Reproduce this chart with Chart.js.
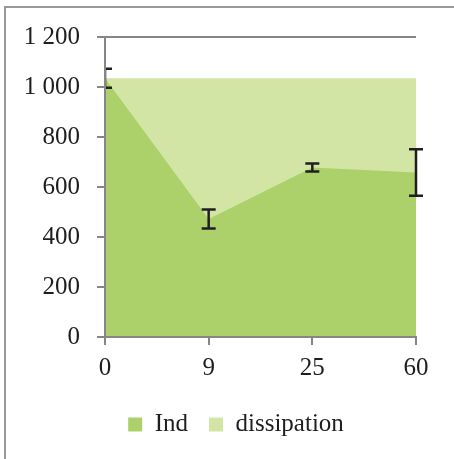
<!DOCTYPE html>
<html>
<head>
<meta charset="utf-8">
<script src="https://cdn.jsdelivr.net/npm/chart.js@4"></script>
<style>
  body { margin: 0; background: #fff; }
  #wrap { position: relative; width: 454px; height: 459px; }
  #frame { position: absolute; left: 4px; top: 6px; right: -4px; bottom: -4px;
           border-left: 2px solid #999; border-top: 2px solid #999; pointer-events: none; }
  canvas { position: absolute; left: 0; top: 0; }
</style>
</head>
<body>
<div id="wrap">
  <canvas id="chart" width="454" height="459"></canvas>
  <div id="frame"></div>
</div>
<script>
// data
var categories = ['0', '9', '25', '60'];
var indValues = [1035, 472, 678, 658];
var dissipationValues = [0, 563, 357, 377];
var indErrors = [38, 38, 16, 93];

var axisGray = '#868686';
var textColor = '#1e1e1e';
var serif = "'Liberation Serif', 'Times New Roman', serif";

// error bars on the Ind series
var errorBarPlugin = {
    id: 'errorBars',
    afterLayout: function (chart) {
        // legend sits a bit right of the centre in the original
        chart.legend.left += 28;
        chart.legend.right += 28;
    },
    afterDatasetsDraw: function (chart) {
        var ctx = chart.ctx;
        var area = chart.chartArea;
        var xs = chart.scales.x;
        var ys = chart.scales.y;
        ctx.save();
        ctx.beginPath();
        ctx.rect(area.left, 0, chart.width - area.left, chart.height);
        ctx.clip();
        ctx.strokeStyle = '#1f1f1f';
        ctx.lineWidth = 2.5;
        for (var i = 0; i < indValues.length; i++) {
            var x = xs.getPixelForValue(i);
            var yTop = ys.getPixelForValue(indValues[i] + indErrors[i]);
            var yBot = ys.getPixelForValue(indValues[i] - indErrors[i]);
            ctx.beginPath();
            ctx.moveTo(x, yTop); ctx.lineTo(x, yBot);
            ctx.moveTo(x - 7, yTop); ctx.lineTo(x + 7, yTop);
            ctx.moveTo(x - 7, yBot); ctx.lineTo(x + 7, yBot);
            ctx.stroke();
        }
        ctx.restore();
    }
};

var data = {
    labels: categories,
    datasets: [{
        label: 'Ind',
        data: indValues,
        backgroundColor: '#acd16a',
        borderWidth: 0,
        pointRadius: 0,
        fill: 'origin'
    }, {
        label: 'dissipation',
        data: dissipationValues,
        backgroundColor: '#d3e5a5',
        borderWidth: 0,
        pointRadius: 0,
        fill: 'origin'   // drawn underneath Ind, so no seam
    }]
};

var options = {
    responsive: false,
    animation: false,
    layout: { padding: { left: 0, top: 37, right: 38, bottom: 12 } },
    elements: { line: { tension: 0 } },
    plugins: {
        tooltip: { enabled: false },
        legend: {
            position: 'bottom',
            labels: {
                color: textColor,
                font: { family: serif, size: 25 },
                boxWidth: 14,
                boxHeight: 14,
                padding: 21
            }
        }
    },
    scales: {
        x: {
            offset: false,
            grid: { drawOnChartArea: false, tickLength: 8, color: axisGray, lineWidth: 2 },
            border: { color: axisGray, width: 2, z: 1 },
            ticks: { color: textColor, font: { family: serif, size: 25 }, padding: 8, maxRotation: 0 },
            afterFit: function (scale) { scale.height = 54; }
        },
        y: {
            stacked: true,
            min: 0,
            max: 1200,
            grid: { color: axisGray, lineWidth: 2, tickLength: 8 },
            border: { color: axisGray, width: 2, z: 1 },
            ticks: {
                stepSize: 200,
                color: textColor,
                font: { family: serif, size: 25 },
                padding: 17,
                callback: function (v) {
                    return String(v).replace(/\B(?=(\d{3})+(?!\d))/g, ' ');
                }
            },
            afterFit: function (scale) { scale.width = 105; }
        }
    }
};

var canvas = document.getElementById('chart').getContext('2d');
var areaChart = new Chart(canvas, {
    type: 'line',
    data: data,
    options: options,
    plugins: [errorBarPlugin]
});
</script>
</body>
</html>
